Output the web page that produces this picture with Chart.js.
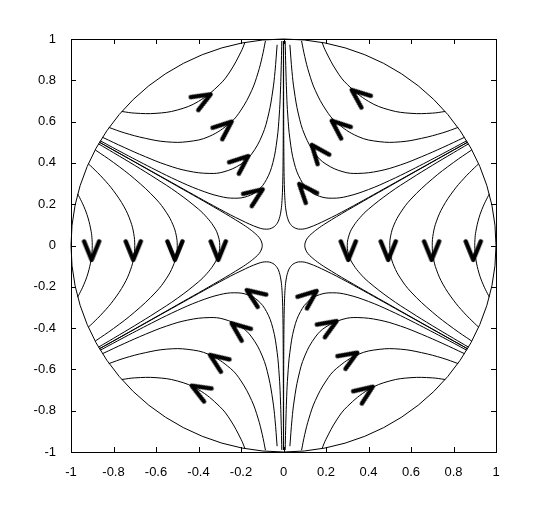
<!DOCTYPE html>
<html>
<head>
<meta charset="utf-8">
<script src="https://cdn.jsdelivr.net/npm/chart.js@4"></script>
<style>
  html, body { margin: 0; padding: 0; background: #fff; }
  #wrap { width: 548px; height: 508px; }
</style>
</head>
<body>
<div id="wrap"><canvas id="chart" width="548" height="508"></canvas></div>
<script>
// Streamlines, upper-left quadrant only (x <= 0, y >= 0).
// The figure is mirror symmetric about both axes, the other quadrants are flipped copies.

// curves of the upper region (from the circle on the left, up to the top near x = 0)
const curveT1 = [[-0.761,0.649],[-0.70,0.641],[-0.60,0.640],[-0.50,0.656],[-0.40,0.698],[-0.30,0.780],[-0.25,0.845],[-0.20,0.938],[-0.181,0.984]];
const curveT2 = [[-0.822,0.572],[-0.75,0.546],[-0.65,0.519],[-0.55,0.502],[-0.45,0.503],[-0.35,0.528],[-0.25,0.595],[-0.20,0.656],[-0.15,0.750],[-0.12,0.836],[-0.10,0.915],[-0.085,0.991]];
const curveT3 = [[-0.852,0.524],[-0.75,0.475],[-0.65,0.430],[-0.55,0.390],[-0.45,0.361],[-0.35,0.349],[-0.28,0.357],[-0.20,0.394],[-0.15,0.443],[-0.10,0.535],[-0.07,0.637],[-0.05,0.753],[-0.04,0.842],[-0.03,0.972]];
const curveT4 = [[-0.862,0.507],[-0.75,0.445],[-0.60,0.365],[-0.50,0.315],[-0.40,0.271],[-0.30,0.238],[-0.23,0.229],[-0.17,0.238],[-0.12,0.267],[-0.08,0.320],[-0.05,0.401],[-0.03,0.517],[-0.02,0.632],[-0.015,0.730],[-0.01,0.894],[-0.008,0.990]];
const curveT5 = [[-0.866,0.500],[-0.70,0.405],[-0.50,0.290],[-0.30,0.176],[-0.20,0.123],[-0.12,0.087],[-0.08,0.079],[-0.05,0.087],[-0.03,0.107],[-0.02,0.130],[-0.012,0.167],[-0.008,0.204],[-0.005,0.258],[-0.003,0.333],[-0.002,0.408],[-0.001,0.577],[-0.0005,0.816],[-0.0004,0.990]];

// curves of the side region (from the circle down to the x axis)
const curveL1 = [[-0.969,0.250],[-0.96,0.233],[-0.94,0.190],[-0.92,0.134],[-0.905,0.067],[-0.901,0.030],[-0.90,0]];
const curveL2 = [[-0.918,0.395],[-0.90,0.378],[-0.85,0.326],[-0.80,0.265],[-0.75,0.187],[-0.72,0.118],[-0.705,0.059],[-0.70,0]];
const curveL3 = [[-0.886,0.463],[-0.80,0.402],[-0.70,0.322],[-0.60,0.225],[-0.55,0.158],[-0.52,0.100],[-0.505,0.050],[-0.50,0]];
const curveL4 = [[-0.871,0.4925],[-0.80,0.4495],[-0.70,0.388],[-0.60,0.324],[-0.50,0.256],[-0.40,0.176],[-0.36,0.135],[-0.33,0.095],[-0.31,0.055],[-0.30,0]];
const curveL5 = [[-0.866,0.500],[-0.70,0.404],[-0.50,0.2875],[-0.30,0.170],[-0.20,0.108],[-0.16,0.080],[-0.13,0.055],[-0.115,0.039],[-0.105,0.022],[-0.10,0]];

// arrow heads: tip position and direction (degrees, counter clockwise from +x)
const arrowX   = [-0.343,-0.244,-0.166,-0.098,  0.321, 0.227, 0.133, 0.074,
                  -0.903,-0.707,-0.511,-0.307,  0.305, 0.493, 0.697, 0.893,
                  -0.432,-0.346,-0.244,-0.173,  0.420, 0.347, 0.250, 0.156];
const arrowY   = [ 0.732, 0.600, 0.433, 0.272,  0.753, 0.604, 0.487, 0.298,
                  -0.070,-0.070,-0.070,-0.070, -0.070,-0.070,-0.070,-0.070,
                  -0.679,-0.530,-0.377,-0.216, -0.684,-0.519,-0.366,-0.220];
const arrowDir = [30, 40, 40, 35,  141, 140, 129, 131,
                  -90,-90,-90,-90, -90,-90,-90,-90,
                  150, 145, 142, 145,  35, 32, 32, 39];

const tickValues = [-1, -0.8, -0.6, -0.4, -0.2, 0, 0.2, 0.4, 0.6, 0.8, 1];
const circleRadius = 1;

const upperCurves = [curveT1, curveT2, curveT3, curveT4, curveT5];
const sideCurves = [curveL1, curveL2, curveL3, curveL4, curveL5];

function flip(pts, sx, sy) {
  return pts.map(p => ({ x: sx * p[0], y: sy * p[1] }));
}

function lineSet(data) {
  return {
    data: data,
    showLine: true,
    borderColor: '#000',
    borderWidth: 1,
    pointRadius: 0,
    tension: 0.4,
    fill: false
  };
}

const datasets = [];
upperCurves.forEach(c => {
  [[1, 1], [-1, 1], [1, -1], [-1, -1]].forEach(([sx, sy]) => datasets.push(lineSet(flip(c, sx, sy))));
});
sideCurves.forEach(c => {
  // upper half then the mirrored lower half, so the curve runs smooth through the x axis
  const lower = c.slice(0, -1).reverse().map(p => [p[0], -p[1]]);
  const full = c.concat(lower);
  [1, -1].forEach(sx => datasets.push(lineSet(flip(full, sx, 1))));
});

// chevron used as point style, tip in the middle, pointing to +x
function makeChevron() {
  const c = document.createElement('canvas');
  c.width = 52; c.height = 52;
  const g = c.getContext('2d');
  const L = 20, h = 22 * Math.PI / 180;
  g.strokeStyle = '#000';
  g.lineWidth = 4.5;
  g.lineCap = 'round';
  g.lineJoin = 'round';
  g.beginPath();
  g.moveTo(26 - L * Math.cos(h), 26 - L * Math.sin(h));
  g.lineTo(26, 26);
  g.lineTo(26 - L * Math.cos(h), 26 + L * Math.sin(h));
  g.stroke();
  return c;
}
const chevron = makeChevron();

datasets.push({
  data: arrowX.map((x, i) => ({ x: x, y: arrowY[i] })),
  showLine: false,
  pointStyle: chevron,
  pointRadius: 10,
  pointRotation: arrowDir.map(d => -d)
});

// unit circle and the boxed axes with inward ticks, all through the scales
const framePlugin = {
  id: 'frame',
  beforeDatasetsDraw(chart) {
    const { ctx, scales: { x, y } } = chart;
    const cx = x.getPixelForValue(0), cy = y.getPixelForValue(0);
    const rx = x.getPixelForValue(circleRadius) - cx;
    const ry = cy - y.getPixelForValue(circleRadius);
    ctx.save();
    ctx.strokeStyle = '#000';
    ctx.lineWidth = 1;
    ctx.beginPath();
    ctx.ellipse(cx, cy, rx, ry, 0, 0, Math.PI * 2);
    ctx.stroke();
    ctx.restore();
  },
  afterDraw(chart) {
    const { ctx, chartArea: a, scales: { x, y } } = chart;
    const len = 5;
    ctx.save();
    ctx.strokeStyle = '#000';
    ctx.lineWidth = 1;
    ctx.strokeRect(Math.round(a.left) + 0.5, Math.round(a.top) + 0.5,
                   Math.round(a.right - a.left), Math.round(a.bottom - a.top));
    ctx.beginPath();
    x.ticks.forEach(t => {
      const px = Math.round(x.getPixelForValue(t.value)) + 0.5;
      ctx.moveTo(px, a.bottom); ctx.lineTo(px, a.bottom - len);
      ctx.moveTo(px, a.top); ctx.lineTo(px, a.top + len);
    });
    y.ticks.forEach(t => {
      const py = Math.round(y.getPixelForValue(t.value)) + 0.5;
      ctx.moveTo(a.left, py); ctx.lineTo(a.left + len, py);
      ctx.moveTo(a.right, py); ctx.lineTo(a.right - len, py);
    });
    ctx.stroke();
    ctx.restore();
  }
};

const tickFont = { family: '"Liberation Sans", Arial, sans-serif', size: 13 };

new Chart(document.getElementById('chart').getContext('2d'), {
  type: 'scatter',
  data: { datasets: datasets },
  plugins: [framePlugin],
  options: {
    responsive: false,
    animation: false,
    events: [],
    layout: { padding: { top: 39, right: 52, left: 0, bottom: 0 } },
    plugins: { legend: { display: false }, tooltip: { enabled: false } },
    scales: {
      x: {
        type: 'linear', min: -1, max: 1,
        afterBuildTicks: s => { s.ticks = tickValues.map(v => ({ value: v })); },
        afterFit: s => { s.height = 56; },
        grid: { display: false },
        border: { display: false },
        ticks: { color: '#000', font: tickFont, padding: 5, maxRotation: 0, callback: v => String(v) }
      },
      y: {
        type: 'linear', min: -1, max: 1,
        afterBuildTicks: s => { s.ticks = tickValues.map(v => ({ value: v })); },
        afterFit: s => { s.width = 71; },
        grid: { display: false },
        border: { display: false },
        ticks: { color: '#000', font: tickFont, padding: 7, callback: v => String(v) }
      }
    }
  }
});
</script>
</body>
</html>
